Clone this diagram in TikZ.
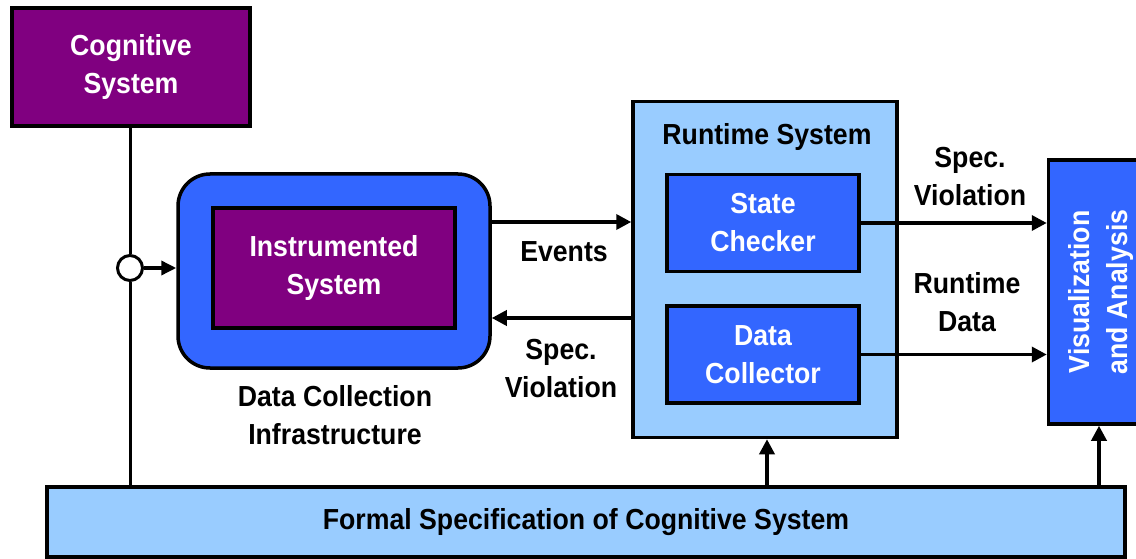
\documentclass[tikz,border=0pt]{standalone}
\usepackage{fontspec}
\setmainfont{Liberation Sans}[FakeStretch=0.92]
\usetikzlibrary{arrows.meta}

\definecolor{cogpurple}{HTML}{800080}
\definecolor{boxblue}{HTML}{3366FF}
\definecolor{paleblue}{HTML}{99CCFF}

\tikzset{
  box/.style={draw=black, line width=3.5pt, inner sep=0pt, align=center,
              font=\bfseries\fontsize{29}{38}\selectfont},
  purplebox/.style={box, fill=cogpurple, text=white},
  bluebox/.style={box, fill=boxblue, text=white},
  palebox/.style={box, fill=paleblue, text=black},
  lbl/.style={align=center, inner sep=0pt, text=black,
              font=\bfseries\fontsize{29}{38}\selectfont},
  flow/.style={line width=3.5pt, -{Triangle[length=15pt,width=15pt]}},
  wire/.style={line width=3pt},
}

\begin{document}
\begin{tikzpicture}[x=1pt, y=-1pt]
  \useasboundingbox (0,0) rectangle (1136,559);

  % cognitive system
  \node[purplebox, minimum width=238pt, minimum height=118pt] (cog) at (131,67) {Cognitive\\System};

  % data collection infrastructure around the instrumented system
  \node[box, fill=boxblue, rounded corners=32pt, minimum width=312pt, minimum height=194pt] (dci) at (334,271) {};
  \node[purplebox, minimum width=242pt, minimum height=120pt] (inst) at (334,268) {Instrumented\\System};
  \node[lbl] (dcilbl) at (335,415.5) {Data Collection\\Infrastructure};

  % runtime system
  \node[palebox, minimum width=264pt, minimum height=336pt] (rt) at (765,269.5) {};
  \node[lbl, anchor=base] (rtlbl) at (767,145) {Runtime System};
  \node[bluebox, minimum width=192pt, minimum height=97pt] (sc) at (763,223) {State\\Checker};
  \node[bluebox, minimum width=192pt, minimum height=97pt] (dc) at (763,354.5) {Data\\Collector};

  % visualization (text runs bottom to top)
  \node[bluebox, minimum width=264pt, minimum height=104pt, rotate=90] (vis) at (1100.5,292) {Visualization\\and Analysis};

  % formal specification
  \node[palebox, minimum width=1078pt, minimum height=70pt] (fs) at (586,522) {Formal Specification of Cognitive System};

  % tap on the cognitive system line
  \node[circle, draw=black, fill=white, line width=3pt, minimum size=25pt, inner sep=0pt] (tap) at (130,268) {};
  \draw[wire] (cog.south -| tap) -- (tap.north);
  \draw[wire] (tap.south) -- (tap.south |- fs.north);
  \draw[flow, -{Triangle[length=15pt,width=14pt]}] (tap.east) -- (dci.west |- tap);

  % events and violations between infrastructure and runtime
  \coordinate (evL) at (dci.east |- 0,222);
  \coordinate (svL) at (dci.east |- 0,318);
  \draw[flow] (evL) -- (evL -| rt.west);
  \draw[flow] (svL -| rt.west) -- (svL);
  \node[lbl] (evlbl) at (564,251.5) {Events};
  \node[lbl] (svlbl) at (561,368.5) {Spec.\\Violation};

  % outputs to visualization
  \draw[flow] (sc.east) -- (sc.east -| vis.north);
  \draw[flow] (dc.east) -- (dc.east -| vis.north);
  \node[lbl] (svlbl2) at (970,176.5) {Spec.\\Violation};
  \node[lbl] (rdlbl) at (967,302.5) {Runtime\\Data};

  % specification feeds
  \draw[flow] (fs.north -| 767,0) -- (rt.south -| 767,0);
  \draw[flow] (fs.north -| 1099,0) -- (vis.west -| 1099,0);
\end{tikzpicture}
\end{document}
